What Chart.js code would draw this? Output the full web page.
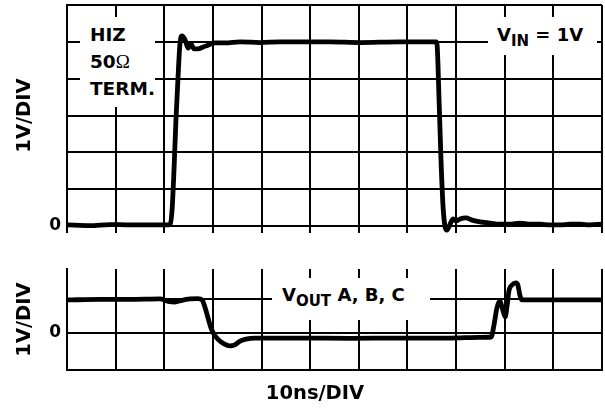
<!DOCTYPE html>
<html>
<head>
<meta charset="utf-8">
<script src="https://cdn.jsdelivr.net/npm/chart.js@4.4.1/dist/chart.umd.min.js"></script>
<style>
  html, body { margin: 0; padding: 0; background: #fff; }
  #wrap { position: relative; width: 605px; height: 408px; background: #fff; overflow: hidden;
          font-family: "DejaVu Sans", Verdana, sans-serif; font-weight: bold; color: #000; }
  canvas { position: absolute; left: 0; }
  .box { position: absolute; background: #fff; z-index: 2; }
  .txt { position: absolute; z-index: 3; font-size: 18px; line-height: 27px; white-space: nowrap; }
  .sub { font-size: 15px; position: relative; top: 5px; }
  .omega { font-family: "Liberation Serif", serif; font-weight: normal; font-size: 19px; }
</style>
</head>
<body>
<div id="wrap">
  <canvas id="top" width="605" height="250" style="top:0"></canvas>
  <canvas id="bot" width="605" height="158" style="top:250px"></canvas>

  <div class="box" style="left:80px;top:17px;width:75px;height:90px"></div>
  <div class="txt" style="left:90px;top:21px;font-size:18.5px">HIZ<br>50<span class="omega">Ω</span><br>TERM.</div>

  <div class="box" style="left:488px;top:17px;width:109px;height:38px"></div>
  <div class="txt" style="left:497px;top:21px">V<span class="sub">IN</span> = 1V</div>

  <div class="box" style="left:272px;top:278px;width:158px;height:42px"></div>
  <div class="txt" style="left:282px;top:281px">V<span class="sub">OUT</span> A, B, C</div>

  <div class="txt" style="left:215px;top:379px;width:200px;text-align:center;font-size:19.5px">10ns/DIV</div>
</div>
<script>
// ---- data (time in ns, amplitude in divisions) ----
const topTimes = [0, 4.7, 8.8, 12.95, 17.1, 20.8, 21.2, 21.6, 22.0, 22.4, 22.8, 23.2, 23.6, 24.3, 24.9, 25.5, 26.1, 26.9, 28.0, 29.0, 30.4, 32.5, 35.6, 39.7, 43.8, 47.9, 54.1, 60.2, 68.5, 74.6, 75.9, 76.1, 76.5, 76.9, 77.3, 77.7, 78.1, 78.7, 79.4, 80.0, 80.8, 82.0, 83.3, 84.9, 87.0, 89.0, 91.1, 93.1, 95.2, 97.3, 99.3, 101.4, 103.4, 105.5, 107.5, 110];
const topVolts = [0.03, 0.01, 0.04, 0.03, 0.03, 0.03, 0.05, 0.43, 1.52, 2.88, 3.96, 4.91, 5.16, 5.05, 4.83, 4.94, 4.81, 4.81, 4.86, 4.91, 4.97, 4.97, 5.0, 4.98, 5.0, 5.0, 5.0, 4.98, 5.0, 5.0, 5.0, 4.91, 3.42, 1.79, 0.57, 0.0, -0.11, 0.03, 0.19, 0.14, 0.19, 0.22, 0.16, 0.11, 0.08, 0.05, 0.05, 0.08, 0.05, 0.05, 0.03, 0.03, 0.05, 0.05, 0.03, 0.05];

const botTimes = [0, 6.8, 12.95, 19.1, 20.8, 22.2, 23.6, 25.3, 26.9, 27.8, 28.4, 29.0, 29.6, 30.2, 31.0, 32.3, 33.5, 34.5, 35.6, 36.8, 38.7, 41.7, 47.9, 58.2, 68.5, 78.7, 84.9, 87.2, 87.8, 88.4, 89.0, 89.6, 90.1, 90.5, 90.9, 91.5, 92.3, 92.7, 93.1, 93.5, 95.2, 101.4, 110];
const botVolts = [0.97, 0.985, 0.985, 1.0, 0.93, 0.91, 0.96, 1.0, 1.01, 0.97, 0.74, 0.44, 0.15, -0.03, -0.18, -0.32, -0.38, -0.35, -0.24, -0.18, -0.15, -0.15, -0.15, -0.16, -0.15, -0.15, -0.13, -0.12, 0.24, 0.74, 0.94, 0.68, 0.47, 0.82, 1.26, 1.41, 1.47, 1.41, 1.12, 0.97, 0.97, 0.97, 0.97];

const xTicks = [0, 10, 20, 30, 40, 50, 60, 70, 80, 90, 100, 110];
const topYTicks = [0, 1, 2, 3, 4, 5, 6];
const botYTicks = [0, 1];
const zeroLabel = '0';

const FONT = 'DejaVu Sans';
const toPts = (xs, ys) => xs.map((x, i) => ({ x, y: ys[i] }));

function lineDataset(pts) {
  return {
    data: pts, borderColor: '#000', borderWidth: 4.8, pointRadius: 0,
    cubicInterpolationMode: 'monotone', fill: false, clip: false
  };
}
function zeroPad(s) { s.paddingTop = 0; s.paddingBottom = 0; s.paddingLeft = 0; s.paddingRight = 0; }

function makeChart(id, pts, yMin, yMax, yTicks, opts) {
  return new Chart(document.getElementById(id), {
    type: 'line',
    data: { datasets: [lineDataset(pts)] },
    options: {
      responsive: false, animation: false, devicePixelRatio: 1,
      layout: { padding: { left: 0, right: 3, top: opts.top, bottom: 0 } },
      plugins: { legend: { display: false }, tooltip: { enabled: false } },
      scales: {
        x: {
          type: 'linear', min: 0, max: 110,
          afterBuildTicks: s => { s.ticks = xTicks.map(v => ({ value: v })); },
          afterFit: s => { s.height = opts.xHeight; zeroPad(s); },
          ticks: { display: false },
          grid: { color: '#000', lineWidth: 2, drawTicks: opts.drawXTicks, tickLength: 7, tickColor: '#000' },
          border: { display: true, color: '#000', width: 2 }
        },
        y: {
          type: 'linear', min: yMin, max: yMax,
          afterBuildTicks: s => { s.ticks = yTicks.map(v => ({ value: v })); },
          afterFit: s => { s.width = 67; zeroPad(s); },
          ticks: {
            color: '#000', padding: 6, autoSkip: false,
            font: { family: FONT, weight: 'bold', size: 17 },
            callback: v => (v === 0 ? zeroLabel : '')
          },
          grid: { color: '#000', lineWidth: 2, drawTicks: false },
          border: { display: true, color: '#000', width: 2 },
          title: {
            display: true, text: '1V/DIV', color: '#000',
            font: { family: FONT, weight: 'bold', size: 19.5 },
            padding: { top: 13, bottom: 0 }
          }
        }
      }
    }
  });
}

makeChart('top', toPts(topTimes, topVolts), 0, 6, topYTicks, { top: 5, xHeight: 24, drawXTicks: true });
makeChart('bot', toPts(botTimes, botVolts), -1.09, 1.88, botYTicks, { top: 19, xHeight: 38, drawXTicks: false });
</script>
</body>
</html>
